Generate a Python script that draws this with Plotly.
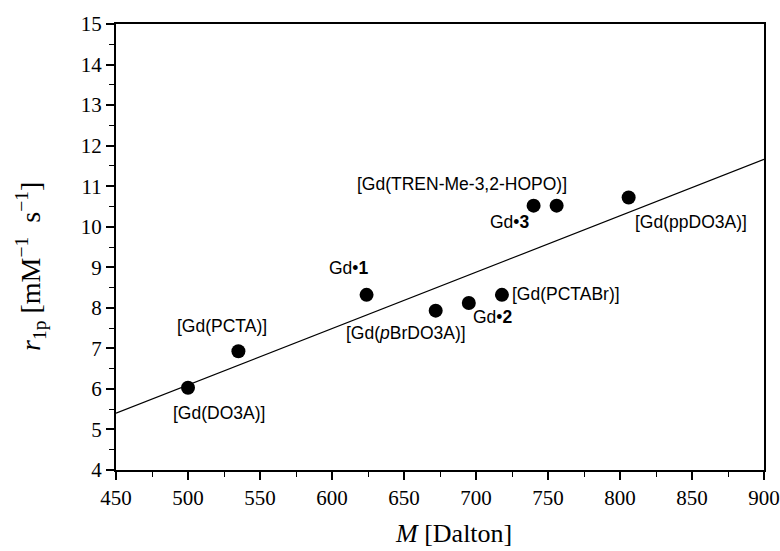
import plotly.graph_objects as go

# Data
names = ["[Gd(DO3A)]", "[Gd(PCTA)]", "Gd•<b>1</b>", "[Gd(<i>p</i>BrDO3A)]", "Gd•<b>2</b>",
         "[Gd(PCTABr)]", "Gd•<b>3</b>", "[Gd(TREN-Me-3,2-HOPO)]", "[Gd(ppDO3A)]"]
mass = [500, 535, 624, 672, 695, 718, 740, 756, 806]
r1p = [6.03, 6.93, 8.32, 7.93, 8.12, 8.32, 10.52, 10.52, 10.72]

fit_x = [450, 900]
fit_y = [5.40, 11.66]

x_title = "<i>M</i> [Dalton]"
y_title = "<i>r</i><sub>1p</sub> [mM<sup>−1</sup>  s<sup>−1</sup>]"

# label offsets (pixels) relative to the point
label_dx = [31, -16, -18, -30, 24, 8, -24, -95, 62]
label_dy = [-25, 25, 27, -22, -14, 1, -16, 22, -24]
label_anchor = ["center", "center", "center", "center", "center", "left", "center", "center", "center"]

fig = go.Figure()
fig.add_trace(go.Scatter(x=fit_x, y=fit_y, mode="lines",
                         line=dict(color="black", width=1.2), showlegend=False,
                         hoverinfo="skip"))
fig.add_trace(go.Scatter(x=mass, y=r1p, mode="markers",
                         marker=dict(color="black", size=14), showlegend=False))

for n, x, y, dx, dy, a in zip(names, mass, r1p, label_dx, label_dy, label_anchor):
    fig.add_annotation(x=x, y=y, xref="x", yref="y", text=n, showarrow=False,
                       xshift=dx, yshift=dy, xanchor=a, yanchor="middle",
                       font=dict(family="Liberation Sans, Arial", size=17.5, color="black"))

serif = "Liberation Serif, Times New Roman"
fig.add_annotation(x=0.5, y=0, xref="paper", yref="paper", text=x_title, showarrow=False,
                   xshift=13, yshift=-63, xanchor="center", yanchor="middle",
                   font=dict(family=serif, size=26, color="black"))
fig.add_annotation(x=0, y=0, xref="paper", yref="paper", text=y_title, showarrow=False,
                   xshift=-86, yshift=203, xanchor="center", yanchor="middle", textangle=-90,
                   font=dict(family=serif, size=28, color="black"))

axis_common = dict(
    showline=True, linecolor="black", linewidth=2, mirror=True,
    ticks="outside", ticklen=8, tickwidth=1.5, tickcolor="black",
    showgrid=False, zeroline=False, automargin=False,
    tickfont=dict(family=serif, size=21, color="black"),
)

fig.update_xaxes(range=[450, 900], tick0=450, dtick=50,
                 minor=dict(ticks="outside", ticklen=5, dtick=25, tick0=450,
                            tickcolor="black", tickwidth=1.2, showgrid=False),
                 **axis_common)
fig.update_yaxes(range=[4, 15], tick0=4, dtick=1,
                 minor=dict(ticks="outside", ticklen=5, dtick=0.5, tick0=4,
                            tickcolor="black", tickwidth=1.2, showgrid=False),
                 **axis_common)

fig.update_layout(width=780, height=551,
                  margin=dict(l=116, r=16, t=24, b=81),
                  plot_bgcolor="white", paper_bgcolor="white")

fig.write_html("out.html")
